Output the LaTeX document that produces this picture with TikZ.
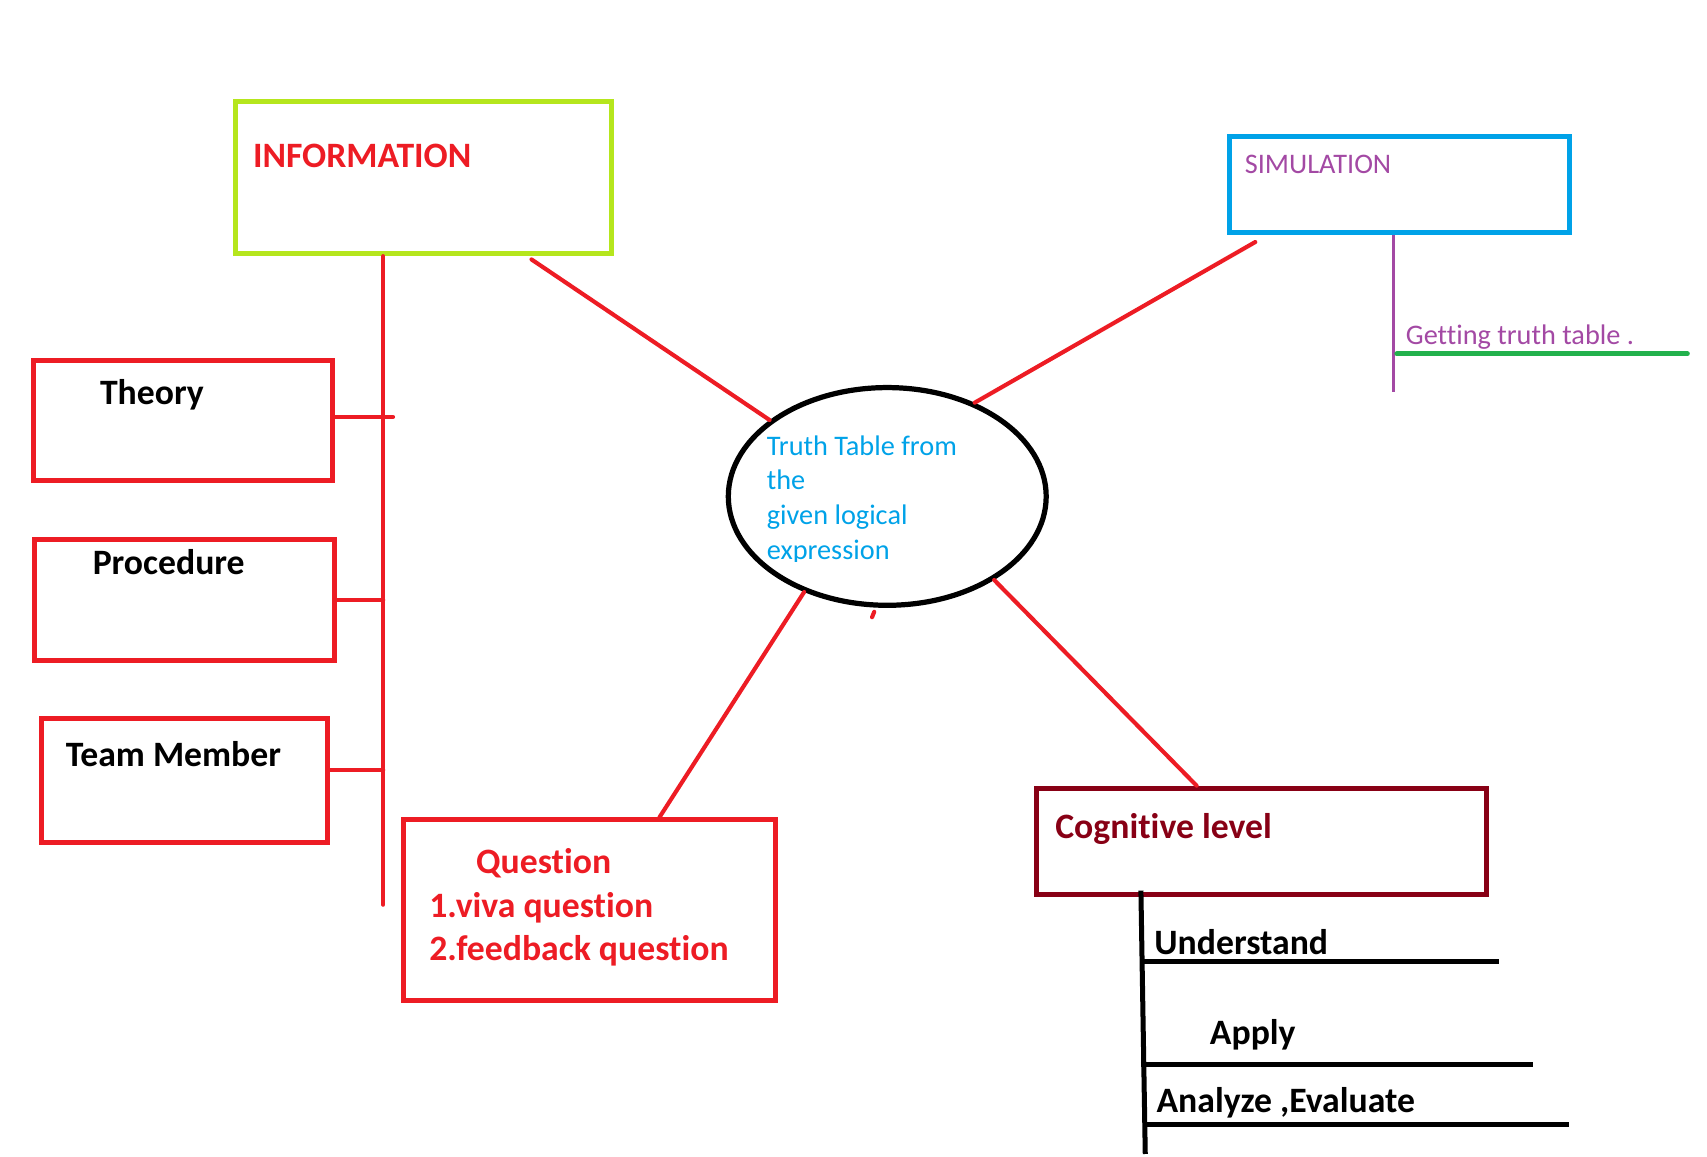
\documentclass[tikz,border=0pt]{standalone}
\usepackage{fontspec}
\setmainfont{Carlito}[Ligatures=NoCommon]
\usetikzlibrary{shapes.geometric,calc}
\definecolor{pred}{HTML}{ED1C24}
\definecolor{plime}{HTML}{B5E61D}
\definecolor{pblue}{HTML}{00A2E8}
\definecolor{ppurple}{HTML}{A349A4}
\definecolor{pgreen}{HTML}{22B14C}
\definecolor{pdark}{HTML}{880015}
\tikzset{
  boxshape/.style={rectangle, draw, line width=2.3pt, inner sep=0pt},
  redbox/.style={boxshape, draw=pred},
  redline/.style={draw=pred, line width=1.9pt, line cap=round},
  blackline/.style={draw=black, line width=2.3pt},
  boldlbl/.style={inner sep=0pt, anchor=base west, font=\bfseries\fontsize{16.4}{19}\selectfont},
  reglbl/.style={inner sep=0pt, anchor=base west, font=\fontsize{13}{15}\selectfont},
  elllbl/.style={inner sep=0pt, anchor=base west, text=pblue, font=\fontsize{13}{15}\selectfont},
}
\begin{document}
\begin{tikzpicture}[x=0.5pt,y=-0.5pt]
\useasboundingbox (0,0) rectangle (1568,1062);

% boxes
\node[boxshape, draw=plime, minimum width=173pt, minimum height=70pt] (info) at (389,163) {};
\node[boxshape, draw=pblue, minimum width=156.5pt, minimum height=44.5pt] (sim) at (1285.5,169.5) {};
\node[redbox, minimum width=137pt, minimum height=55pt] (theory) at (168,386) {};
\node[redbox, minimum width=137.5pt, minimum height=55.5pt] (proc) at (169.5,551.5) {};
\node[redbox, minimum width=131.5pt, minimum height=57pt] (team) at (169.5,717) {};
\node[redbox, minimum width=170.5pt, minimum height=83pt] (quest) at (541.5,836) {};
\node[boxshape, draw=pdark, minimum width=206.5pt, minimum height=49pt] (cog) at (1158.5,773) {};
\node[ellipse, draw=black, line width=2.4pt, inner sep=0pt, minimum width=146pt, minimum height=100pt] (truth) at (815,456) {};

% labels
\node[boldlbl, text=pred] (infotxt) at (232,154) {INFORMATION};
\node[reglbl, text=ppurple] (simtxt) at (1143,159) {SIMULATION};
\node[reglbl, text=ppurple] (gettxt) at (1291,316.5) {Getting truth table .};
\node[boldlbl] (theorytxt) at (91.5,371.5) {Theory};
\node[boldlbl] (proctxt) at (84.8,528) {Procedure};
\node[boldlbl] (teamtxt) at (60,704.5) {Team Member};
\node[boldlbl, text=pred] (q1) at (437,802.5) {Question};
\node[boldlbl, text=pred] (q2) at (394,842.5) {1.viva question};
\node[boldlbl, text=pred] (q3) at (394,882.5) {2.feedback question};
\node[boldlbl, text=pdark] (cogtxt) at (969,770.5) {Cognitive level};
\node[boldlbl] (undtxt) at (1060,876.5) {Understand};
\node[boldlbl] (apptxt) at (1111,959.5) {Apply};
\node[boldlbl] (anatxt) at (1062,1022) {Analyze ,Evaluate};

\begin{scope}
\clip (600,380) rectangle (960,516);
\node[elllbl] (t1) at (704,418) {Truth Table from};
\node[elllbl] (t2) at (704,450) {the};
\node[elllbl] (t3) at (704,482) {given logical};
\node[elllbl] (t4) at (704,514) {expression};
\end{scope}

% left trunk
\coordinate (trunkB) at (352,831);
\draw[redline] (info.south -| trunkB) -- (trunkB);
\coordinate (tj) at (361,383);
\draw[redline] (theory.east |- tj) -- (tj);
\draw[redline] (proc.east) -- (proc.east -| trunkB);
\coordinate (tmj) at (352,707);
\draw[redline] (team.east |- tmj) -- (tmj);

% spokes
\draw[redline] ([yshift=-1.5pt]$(info.south west)!0.783!(info.south east)$) -- (truth.147);
\draw[redline] ([yshift=-3pt]$(sim.south west)!0.083!(sim.south east)$) -- (truth.47);
\draw[redline] (truth.229) -- ($(quest.north west)!0.686!(quest.north east)$);
\draw[redline] (truth.322) -- ($(cog.north west)!0.358!(cog.north east)$);
\draw[redline] (803,562) -- (801,567);

% simulation branch
\coordinate (simB) at (1280,360);
\draw[draw=ppurple, line width=1.8pt] (sim.south -| simB) -- (simB);
\coordinate (gE) at (1550,325);
\draw[draw=pgreen, line width=2.2pt, line cap=round] (gE -| 1283,0) -- (gE);

% cognitive branch
\coordinate (cvt) at (1048,818);
\coordinate (cvb) at (1052,1060);
\draw[blackline] (cvt) -- (cvb);
\coordinate (uE) at (1377,883);
\coordinate (aE) at (1408,977.5);
\coordinate (eE) at (1441,1033);
\draw[blackline] (uE -| 1050,0) -- (uE);
\draw[blackline] (aE -| 1048,0) -- (aE);
\draw[blackline] (eE -| 1050,0) -- (eE);
\end{tikzpicture}
\end{document}
